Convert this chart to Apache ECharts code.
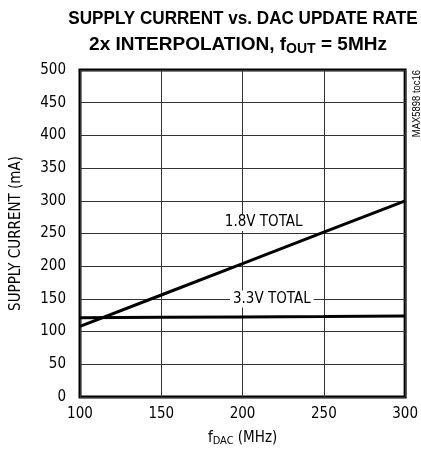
<!DOCTYPE html>
<html><head><meta charset="utf-8">
<script src="https://cdn.jsdelivr.net/npm/echarts@6/dist/echarts.min.js"></script>
<style>html,body{margin:0;padding:0;background:#fff}#c{width:421px;height:457px}</style>
</head><body><div id="c"></div>
<script>
const xTicks = [100, 150, 200, 250, 300];
const yTicks = [0, 50, 100, 150, 200, 250, 300, 350, 400, 450, 500];
const fdac = [100, 150, 200, 250, 300];
const total18 = [108, 156, 204, 252, 300];
const total33 = [121, 122, 122.5, 123, 124];
const labels = [
  {name: '1.8V TOTAL', x: 213, y: 267},
  {name: '3.3V TOTAL', x: 218, y: 150}
];

const FONT = '"DejaVu Sans Condensed","Liberation Sans",sans-serif';
const TFONT = '"Liberation Sans",Arial,sans-serif';
const chart = echarts.init(document.getElementById('c'), null, {renderer: 'canvas'});
const pair = (xs, ys) => xs.map((x, i) => [x, ys[i]]);

chart.setOption({
  animation: false,
  backgroundColor: '#fff',
  grid: {left: 80, right: 13, top: 70, bottom: 60, show: true, borderColor: '#000', borderWidth: 3},
  xAxis: {
    type: 'value', min: 100, max: 300, interval: 50,
    name: '{a|f}{s|DAC}{a| (MHz)}', nameLocation: 'middle', nameGap: 32,
    nameTextStyle: {rich: {
      a: {fontFamily: FONT, fontSize: 15, color: '#000'},
      s: {fontFamily: FONT, fontSize: 11, color: '#000', padding: [7, 0, 0, 0]}
    }},
    axisLine: {show: false}, axisTick: {show: false},
    axisLabel: {fontFamily: FONT, fontSize: 15, color: '#000', margin: 10},
    splitLine: {show: true, lineStyle: {color: '#333', width: 1}}
  },
  yAxis: {
    type: 'value', min: 0, max: 500, interval: 50,
    name: 'SUPPLY CURRENT (mA)', nameLocation: 'middle', nameGap: 56,
    nameTextStyle: {fontFamily: FONT, fontSize: 15, color: '#000'},
    axisLine: {show: false}, axisTick: {show: false},
    axisLabel: {fontFamily: FONT, fontSize: 15, color: '#000', margin: 14},
    splitLine: {show: true, lineStyle: {color: '#333', width: 1}}
  },
  series: [{
    type: 'line', data: pair(fdac, total18), symbol: 'none',
    lineStyle: {color: '#000', width: 3}
  }, {
    type: 'line', data: pair(fdac, total33), symbol: 'none',
    lineStyle: {color: '#000', width: 3},
    markPoint: {
      symbol: 'rect', symbolSize: 0,
      data: labels.map(l => ({coord: [l.x, l.y], name: l.name})),
      label: {show: true, formatter: '{b}', position: 'inside', fontFamily: FONT, fontSize: 15,
        color: '#000', backgroundColor: '#fff', padding: [1, 3, 1, 3]}
    }
  }],
  graphic: [{
    type: 'text', x: 243, y: 19, scaleX: 0.9,
    style: {text: 'SUPPLY CURRENT vs. DAC UPDATE RATE', fontFamily: TFONT, fontWeight: 'bold', fontSize: 19,
      fill: '#000', textAlign: 'center', textVerticalAlign: 'middle'}
  }, {
    type: 'text', x: 238, y: 45, scaleX: 1.0,
    style: {text: '{a|2x INTERPOLATION, f}{s|OUT}{a| = 5MHz}', textAlign: 'center', textVerticalAlign: 'middle',
      rich: {
        a: {fontFamily: TFONT, fontWeight: 'bold', fontSize: 19, fill: '#000', color: '#000'},
        s: {fontFamily: TFONT, fontWeight: 'bold', fontSize: 14, fill: '#000', color: '#000', padding: [8, 0, 0, 0]}
      }}
  }, {
    type: 'text', x: 417, y: 70, rotation: Math.PI / 2, scaleX: 0.9,
    style: {text: 'MAX5898 toc16', fontFamily: TFONT, fontSize: 10.5, fill: '#000', textAlign: 'right', textVerticalAlign: 'middle'}
  }]
});
</script></body></html>
